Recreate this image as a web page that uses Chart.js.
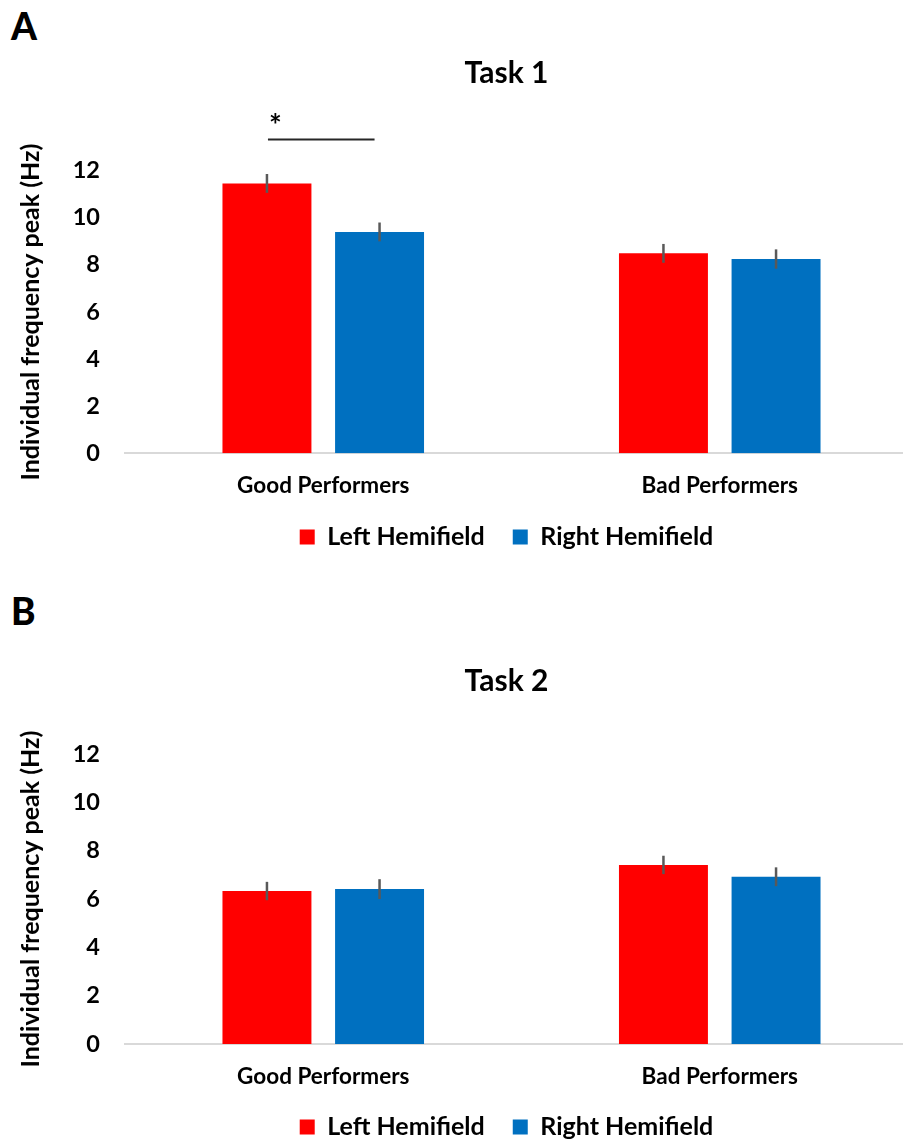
<!DOCTYPE html>
<html>
<head>
<meta charset="utf-8">
<script src="https://cdn.jsdelivr.net/npm/chart.js@4"></script>
<style>
  html, body { margin:0; padding:0; background:#fff; overflow:hidden; width:903px; height:1142px; }
  #wrap { position:relative; width:903px; height:1142px; overflow:hidden; }
  canvas { position:absolute; left:0; }
  .panel { position:absolute; left:11px; font-family:Lato, "DejaVu Sans", sans-serif; font-weight:900; font-size:37px; line-height:37px; color:#000; }
</style>
</head>
<body>
<div id="wrap">
  <div class="panel" style="top:7px;">A</div>
  <div class="panel" style="top:592px;">B</div>
  <canvas id="c1" width="1013" height="585" style="top:0px;width:1013px;height:585px;"></canvas>
  <canvas id="c2" width="1013" height="585" style="top:585px;width:1013px;height:585px;"></canvas>
</div>
<script>
// ---- data ----
const categories = ['Good Performers', 'Bad Performers'];
const seriesNames = ['Left Hemifield', 'Right Hemifield'];
const yTickMin = 0, yTickMax = 12, yTickStep = 2;

const task1Left = [11.46, 8.49];
const task1Right = [9.40, 8.25];
const task1LeftErr = [0.40, 0.40];
const task1RightErr = [0.40, 0.41];

const task2Left = [6.33, 7.41];
const task2Right = [6.41, 6.92];
const task2LeftErr = [0.38, 0.38];
const task2RightErr = [0.41, 0.39];

// significance marker: between dataset 0 and 1 of category 0 at value 13.33
const task1Significance = [{ category: 0, from: 0, to: 1, value: 13.33, label: '*' }];
const task2Significance = [];

// ---- styles ----
const FONT = 'Lato, "DejaVu Sans", sans-serif';
const RED = '#FF0000', BLUE = '#0070C0';

const errorBarPlugin = {
  id: 'errorBars',
  afterDatasetsDraw(chart, args, opts) {
    const ctx = chart.ctx;
    const y = chart.scales.y;
    ctx.save();
    ctx.strokeStyle = '#595959';
    ctx.lineWidth = 2.5;
    chart.data.datasets.forEach((ds, di) => {
      const meta = chart.getDatasetMeta(di);
      meta.data.forEach((bar, i) => {
        const v = ds.data[i], e = ds.errors[i];
        ctx.beginPath();
        ctx.moveTo(bar.x, y.getPixelForValue(v + e));
        ctx.lineTo(bar.x, y.getPixelForValue(v - e));
        ctx.stroke();
      });
    });
    // significance
    (opts.marks || []).forEach(m => {
      const b0 = chart.getDatasetMeta(m.from).data[m.category];
      const b1 = chart.getDatasetMeta(m.to).data[m.category];
      const py = y.getPixelForValue(m.value);
      ctx.strokeStyle = '#262626';
      ctx.lineWidth = 2;
      ctx.beginPath();
      ctx.moveTo(b0.x + 1, py);
      ctx.lineTo(b1.x - 5, py);
      ctx.stroke();
      ctx.fillStyle = '#000';
      ctx.font = 'bold 30px ' + FONT;
      ctx.textAlign = 'left';
      ctx.textBaseline = 'alphabetic';
      ctx.fillText(m.label, b0.x + 2, py - 3);
    });
    ctx.restore();
  }
};

function makeChart(id, title, left, right, leftErr, rightErr, marks, lay) {
  return new Chart(document.getElementById(id), {
    type: 'bar',
    data: {
      labels: categories,
      datasets: [
        { label: seriesNames[0], data: left, errors: leftErr, backgroundColor: RED, borderWidth: 0,
          categoryPercentage: 0.568, barPercentage: 0.79 },
        { label: seriesNames[1], data: right, errors: rightErr, backgroundColor: BLUE, borderWidth: 0,
          categoryPercentage: 0.568, barPercentage: 0.79 }
      ]
    },
    plugins: [errorBarPlugin],
    options: {
      responsive: false,
      maintainAspectRatio: false,
      animation: false,
      devicePixelRatio: 1,
      layout: { padding: { top: 0, left: 0, right: 0, bottom: lay.pb } },
      plugins: {
        errorBars: { marks: marks },
        tooltip: { enabled: false },
        title: {
          display: true, text: title, color: '#000',
          font: { family: FONT, size: 30, weight: 'bold' },
          padding: { top: lay.tt, bottom: lay.tb }
        },
        legend: {
          position: 'bottom',
          labels: {
            color: '#000', boxWidth: 15, boxHeight: 15, padding: 28,
            font: { family: FONT, size: 25, weight: 'bold' }
          }
        }
      },
      scales: {
        x: {
          grid: { display: false, drawTicks: false },
          border: { display: true, color: '#D9D9D9', width: 2 },
          ticks: { color: '#000', padding: lay.xp, font: { family: FONT, size: 22.5, weight: 'bold' } },
          afterFit: s => { s.height = lay.xh; }
        },
        y: {
          min: yTickMin, max: yTickMax,
          grid: { display: false, drawTicks: false },
          border: { display: false },
          ticks: { stepSize: yTickStep, color: '#000', padding: 25, font: { family: FONT, size: 23.5, weight: 'bold' } },
          title: {
            display: true, text: 'Individual frequency peak (Hz)', color: '#000',
            font: { family: FONT, size: 25, weight: 'bold' },
            padding: { top: 16, bottom: 0 }
          },
          afterFit: s => { s.width = 125; }
        },
        yR: {
          position: 'right', display: true,
          grid: { display: false, drawTicks: false },
          border: { display: false },
          ticks: { display: false },
          afterFit: s => { s.width = 95; }
        }
      }
    }
  });
}

makeChart('c1', 'Task 1', task1Left, task1Right, task1LeftErr, task1RightErr, task1Significance,
  { pb: 25.5, tt: 55, tb: 79.7, xh: 43.2, xp: 19.2 });
makeChart('c2', 'Task 2', task2Left, task2Right, task2LeftErr, task2RightErr, task2Significance,
  { pb: 20.5, tt: 78, tb: 55, xh: 42.5, xp: 19.5 });
</script>
</body>
</html>
